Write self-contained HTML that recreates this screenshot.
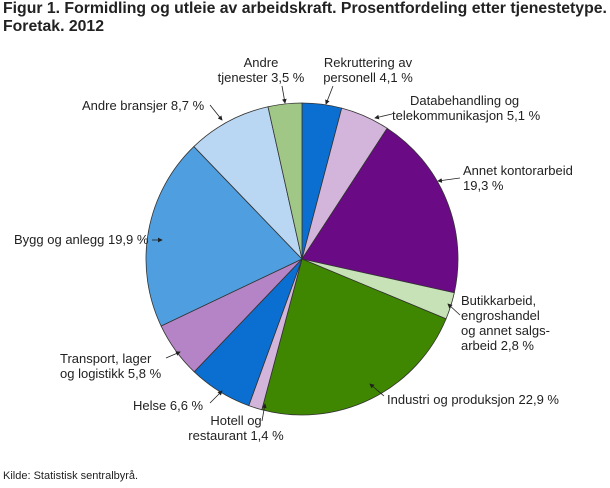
<!DOCTYPE html>
<html><head><meta charset="utf-8"><style>
body{margin:0;background:#fff;width:610px;height:488px;overflow:hidden;font-family:"Liberation Sans",sans-serif}
h1{position:absolute;left:3px;top:0;margin:0;font-size:15.8px;font-weight:bold;color:#222;line-height:18px}
.src{position:absolute;left:3px;top:470px;font-size:11px;color:#222}
svg{position:absolute;left:0;top:0}
text{font-family:"Liberation Sans",sans-serif;font-size:13px;fill:#222}
</style></head><body>
<h1>Figur 1. Formidling og utleie av arbeidskraft. Prosentfordeling etter tjenestetype.<br>Foretak. 2012</h1>
<svg id="s" width="610" height="488" xmlns="http://www.w3.org/2000/svg">
<defs><marker id="a" markerWidth="6" markerHeight="6" refX="5" refY="3" orient="auto"><path d="M0,0L6,3L0,6z" fill="#222"/></marker></defs>
<g id="p"></g>
<g stroke="#222" stroke-width="0.8" marker-end="url(#a)">
<line x1="282" y1="86" x2="285" y2="103"/>
<line x1="333" y1="86" x2="326" y2="104"/>
<line x1="392" y1="114" x2="375" y2="118"/>
<line x1="460" y1="178" x2="438" y2="181"/>
<line x1="460" y1="315" x2="448" y2="304"/>
<line x1="384" y1="396" x2="370" y2="384"/>
<line x1="262" y1="421" x2="265" y2="404"/>
<line x1="210" y1="403" x2="222" y2="391"/>
<line x1="166" y1="358" x2="180" y2="352"/>
<line x1="152" y1="240" x2="162" y2="240"/>
<line x1="210" y1="105" x2="222" y2="120"/>
</g>
<text x="261" y="67" text-anchor="middle">Andre</text>
<text x="261" y="82" text-anchor="middle">tjenester 3,5 %</text>
<text x="368" y="67" text-anchor="middle">Rekruttering av</text>
<text x="368" y="82" text-anchor="middle">personell 4,1 %</text>
<text x="410" y="105">Databehandling og</text>
<text x="392" y="120">telekommunikasjon 5,1 %</text>
<text x="463" y="175">Annet kontorarbeid</text>
<text x="463" y="190">19,3 %</text>
<text x="461" y="305">Butikkarbeid,</text>
<text x="461" y="320">engroshandel</text>
<text x="461" y="335">og annet salgs-</text>
<text x="461" y="350">arbeid 2,8 %</text>
<text x="387" y="404">Industri og produksjon 22,9 %</text>
<text x="236" y="425" text-anchor="middle">Hotell og</text>
<text x="236" y="440" text-anchor="middle">restaurant 1,4 %</text>
<text x="133" y="410">Helse 6,6 %</text>
<text x="60" y="363">Transport, lager</text>
<text x="60" y="378">og logistikk 5,8 %</text>
<text x="14" y="244">Bygg og anlegg 19,9 %</text>
<text x="82" y="110">Andre bransjer 8,7 %</text>
</svg>
<div class="src">Kilde: Statistisk sentralbyrå.</div>
<script>
var d=[[4.1,"#0a6fd0"],[5.1,"#d3b5dc"],[19.3,"#6a0a85"],[2.8,"#c8e2b8"],[22.9,"#3f8700"],[1.4,"#d3b5dc"],[6.6,"#0a6fd0"],[5.8,"#b584c6"],[19.9,"#4f9fe0"],[8.7,"#b9d6f2"],[3.5,"#a1c787"]];
var t=0,s=0;d.forEach(function(x){t+=x[0]});
var cx=302,cy=259,r=156,h="";
d.forEach(function(x){var a0=s/t*2*Math.PI;s+=x[0];var a1=s/t*2*Math.PI;
var x0=cx+r*Math.sin(a0),y0=cy-r*Math.cos(a0),x1=cx+r*Math.sin(a1),y1=cy-r*Math.cos(a1);
h+='<path d="M'+cx+','+cy+'L'+x0+','+y0+'A'+r+','+r+' 0 '+((a1-a0)>Math.PI?1:0)+' 1 '+x1+','+y1+'Z" fill="'+x[1]+'" stroke="#333" stroke-width="0.8"/>';});
document.getElementById("p").innerHTML=h;
</script>
</body></html>
